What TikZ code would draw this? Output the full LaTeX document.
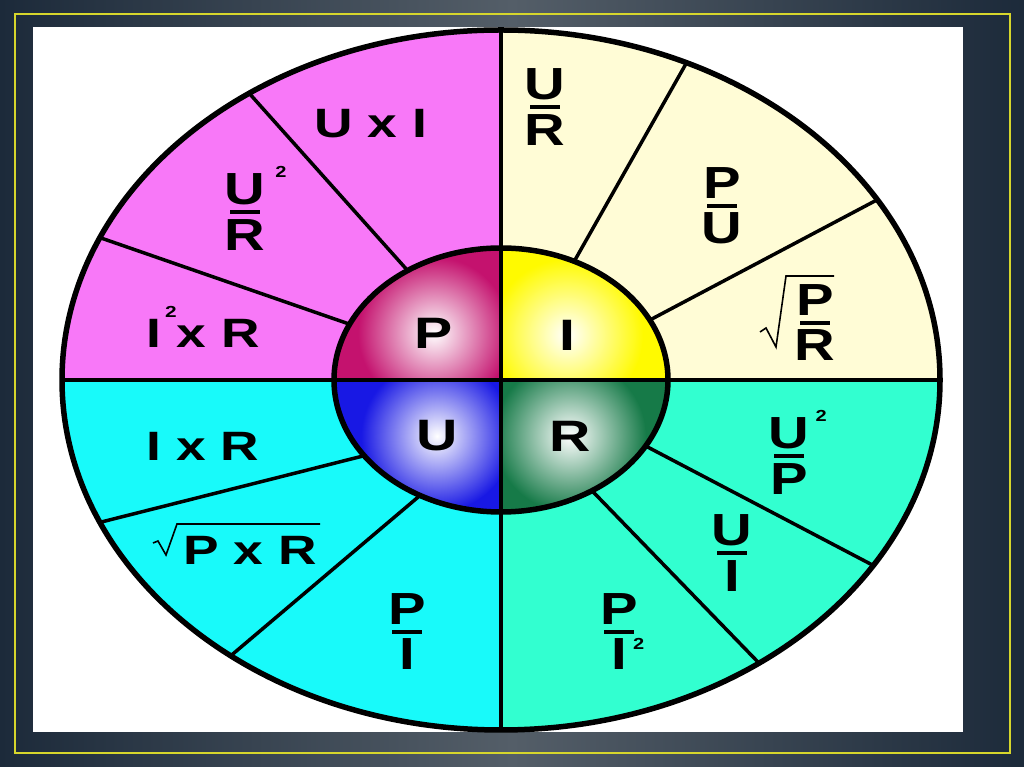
\documentclass[tikz,border=0pt]{standalone}
\usepackage{fontspec}
\setmainfont{Liberation Sans}
\usepackage{graphicx}
\usepackage{xcolor}
\usepackage{tikz}

\definecolor{magq}{RGB}{248,120,248}
\definecolor{creq}{RGB}{255,252,214}
\definecolor{cyaq}{RGB}{24,250,250}
\definecolor{aquq}{RGB}{50,255,208}
\definecolor{pcol}{RGB}{196,18,110}
\definecolor{icol}{RGB}{255,250,0}
\definecolor{ucol}{RGB}{24,24,228}
\definecolor{rcol}{RGB}{22,122,72}
\definecolor{bgdark}{RGB}{28,42,58}
\definecolor{bglite}{RGB}{84,94,104}
\definecolor{frameyel}{RGB}{214,214,44}

\newcommand{\hsx}[1]{\scalebox{1.3}[1]{#1}}
\newcommand{\frc}[2]{\scalebox{1.25}[1]{\shortstack{#1\\[2pt]\rule{24pt}{4pt}\\[2pt]#2}}}
\newcommand{\two}[2]{\rlap{\hspace{#1}\smash{\raisebox{#2}{\fontsize{16}{16}\selectfont 2}}}}

\begin{document}
\begin{tikzpicture}[x=1pt, y=1pt,
    lbl/.style={font=\fontsize{41}{44}\selectfont\bfseries, inner sep=0pt},
    frac/.style={font=\fontsize{45}{48}\selectfont\bfseries, inner sep=0pt},
    core/.style={font=\fontsize{44}{48}\selectfont\bfseries, inner sep=0pt},
    divider/.style={line width=3.5pt},
    rim/.style={line width=5.5pt},
    radical/.style={line width=1.6pt, line join=miter}]

    \useasboundingbox (0, 0) rectangle (1024, 767);
    \shade[left color=bgdark, right color=bgdark, middle color=bglite] (0, 0) rectangle (1024, 767);
    \draw[frameyel, line width=2pt] (14.5, 13.5) rectangle (1010, 753);
    \fill[white] (33, 35) rectangle (963, 740);

    \begin{scope}[shift={(501, 387)}]
        \fill[magq] (0, 0) -- (0, 350) arc[start angle=90, end angle=180, x radius=439, y radius=350] -- cycle;
        \fill[creq] (0, 0) -- (439, 0) arc[start angle=0, end angle=90, x radius=439, y radius=350] -- cycle;
        \fill[cyaq] (0, 0) -- (-439, 0) arc[start angle=180, end angle=270, x radius=439, y radius=350] -- cycle;
        \fill[aquq] (0, 0) -- (0, -350) arc[start angle=270, end angle=360, x radius=439, y radius=350] -- cycle;

        \foreach \a/\c/\lx/\ly in {90/pcol/-67/47, 0/icol/66/45, 180/ucol/-64/-56, 270/rcol/69/-56} {
            \begin{scope}
                \clip (0, 0) -- (\a:167 and 132) arc[start angle=\a, delta angle=90, x radius=167, y radius=132] -- cycle;
                \fill[\c] (-200, -200) rectangle (200, 200);
                \shade[inner color=white, outer color=\c] (\lx, \ly) circle (76);
            \end{scope}
        }

        \draw[divider] (0, -350) -- (0, 350);
        \draw[divider] (-439, 0) -- (439, 0);
        \foreach \i/\o in {124/125, 155/156, 64/65, 27/31, -30/-32, -57/-54, 215/204, 241/232}
            \draw[divider] (\i:167 and 132) -- (\o:439 and 350);

        \draw[rim] (0, 0) ellipse [x radius=167, y radius=132];
        \draw[rim] (0, 0) ellipse [x radius=439, y radius=350];
    \end{scope}

    \node[core] at (434, 434) (p) {\hsx{P}};
    \node[core] at (567, 432) (i) {\hsx{I}};
    \node[core] at (437, 331) (u) {\hsx{U}};
    \node[core] at (570, 331) (r) {\hsx{R}};

    \node[lbl] at (371, 643) (uxi) {\hsx{U x I}};
    \node[frac] at (245, 555) (ur2) {\frc{U\two{8pt}{27pt}}{R}};
    \node[lbl, anchor=base] at (203, 419) (i2r) {\hsx{I\two{3pt}{30pt}\hspace{12pt}x R}};

    \node[frac] at (545, 660) (ur) {\frc{U}{R}};
    \node[frac] at (722, 561) (pu) {\frc{P}{U}};
    \node[frac] at (815, 444) (pr) {\frc{P}{R}};

    \node[lbl] at (203, 321) (ir) {\hsx{I x R}};
    \node[lbl] at (250, 217) (pxr) {\hsx{P x R}};
    \node[frac] at (407, 135) (pi) {\frc{P}{I}};

    \node[frac] at (789, 311) (u2p) {\frc{U\two{5pt}{27pt}}{P}};
    \node[frac] at (732, 214) (ui) {\frc{U}{I}};
    \node[frac] at (619, 135) (pi2) {\frc{P}{I\two{5pt}{20pt}}};

    \draw[radical] ([shift={(-55, -9)}]pr.center) -- ([shift={(-49, -5)}]pr.center)
        -- ([shift={(-39, -24)}]pr.center) -- ([shift={(-29, 47)}]pr.center) -- ([shift={(19, 47)}]pr.center);
    \draw[radical] ([shift={(-97, 7)}]pxr.center) -- ([shift={(-92, 9)}]pxr.center)
        -- ([shift={(-84, -5)}]pxr.center) -- ([shift={(-73, 26)}]pxr.center) -- ([shift={(70, 26)}]pxr.center);
\end{tikzpicture}
\end{document}
